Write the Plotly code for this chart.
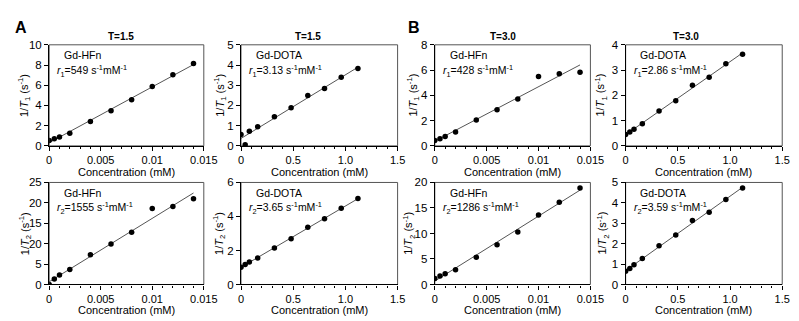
import numpy as np
import plotly.graph_objects as go

# ---------------- data ----------------
conc_hfn = [0, 0.0005, 0.001, 0.002, 0.004, 0.006, 0.008, 0.010, 0.012, 0.014]
conc_dota = [0, 0.04, 0.08, 0.16, 0.32, 0.48, 0.64, 0.80, 0.96, 1.12]

t1_hfn_15 = [0.54, 0.70, 0.89, 1.25, 2.40, 3.48, 4.57, 5.88, 7.03, 8.15]
t1_dota_15 = [0.56, 0.05, 0.72, 0.94, 1.44, 1.88, 2.49, 2.84, 3.40, 3.83]
t1_hfn_30 = [0.43, 0.56, 0.74, 1.10, 2.05, 2.86, 3.71, 5.50, 5.70, 5.83]
t1_dota_30 = [0.45, 0.55, 0.66, 0.88, 1.38, 1.79, 2.40, 2.72, 3.25, 3.63]
t2_hfn_15 = [0.0, 1.35, 2.30, 3.65, 7.30, 9.90, 12.8, 18.6, 19.1, 21.0]
t2_dota_15 = [1.01, 1.18, 1.33, 1.56, 2.15, 2.69, 3.37, 3.87, 4.48, 5.05]
t2_hfn_30 = [1.19, 1.69, 2.10, 2.90, 5.35, 7.80, 10.3, 13.6, 16.1, 18.9]
t2_dota_30 = [0.65, 0.78, 0.97, 1.27, 1.90, 2.43, 3.13, 3.54, 4.17, 4.73]

x_ticks_hfn = [0, 0.005, 0.01, 0.015]
x_ticklabels_hfn = ["0", "0.005", "0.01", "0.015"]
x_ticks_dota = [0, 0.5, 1.0, 1.5]
x_ticklabels_dota = ["0", "0.5", "1.0", "1.5"]

relaxivity_labels = ["549", "3.13", "428", "2.86", "1555", "3.65", "1286", "3.59"]
agents = ["Gd-HFn", "Gd-DOTA", "Gd-HFn", "Gd-DOTA", "Gd-HFn", "Gd-DOTA", "Gd-HFn", "Gd-DOTA"]
field_titles = ["T=1.5", "T=1.5", "T=3.0", "T=3.0"]
t2_hfn_15_ticklabels = ["0", "5", "20", "15", "20", "25"]  # as printed in the figure

# ---------------- layout helpers ----------------
W, H = 799, 321
FONT = "Liberation Sans, Arial, sans-serif"


def px(x):
    return x / W


def py(y):
    return 1 - y / H


col_px = [(39, 197), (235, 395), (433, 592), (628, 788)]
row_px = [(32, 137), (175, 281)]

panels = [
    # (row, col, x, y, ymax, ydtick, kind, relax_sub)
    (0, 0, conc_hfn, t1_hfn_15, 10, 2, "hfn", 1),
    (0, 1, conc_dota, t1_dota_15, 5, 1, "dota", 1),
    (0, 2, conc_hfn, t1_hfn_30, 8, 2, "hfn", 1),
    (0, 3, conc_dota, t1_dota_30, 4, 1, "dota", 1),
    (1, 0, conc_hfn, t2_hfn_15, 25, 5, "hfn", 2),
    (1, 1, conc_dota, t2_dota_15, 6, 2, "dota", 2),
    (1, 2, conc_hfn, t2_hfn_30, 20, 5, "hfn", 2),
    (1, 3, conc_dota, t2_dota_30, 5, 1, "dota", 2),
]

fig = go.Figure()
layout = dict(
    width=W, height=H, autosize=False,
    margin=dict(l=0, r=0, t=0, b=0),
    paper_bgcolor="white", plot_bgcolor="white",
    showlegend=False,
    font=dict(family=FONT, size=11, color="black"),
)
annotations = []
shapes = []

ytitle_x = [[14, 214, 411, 603], [15, 213, 407, 605]]

for i, (r, c, xs, ys, ymax, ydt, kind, sub) in enumerate(panels):
    n = i + 1
    xa = "xaxis" if n == 1 else f"xaxis{n}"
    ya = "yaxis" if n == 1 else f"yaxis{n}"
    xr = "x" if n == 1 else f"x{n}"
    yr = "y" if n == 1 else f"y{n}"
    x0, x1 = col_px[c]
    y0, y1 = row_px[r]

    xs_arr = np.array(xs)
    ys_arr = np.array(ys)
    slope, inter = np.polyfit(xs_arr, ys_arr, 1)
    xfit = np.array([0, xs_arr.max()])
    fig.add_trace(go.Scatter(x=xfit, y=slope * xfit + inter, mode="lines",
                             line=dict(color="#555555", width=1),
                             xaxis=xr, yaxis=yr, hoverinfo="skip"))
    fig.add_trace(go.Scatter(x=xs, y=ys, mode="markers",
                             marker=dict(color="black", size=5.5),
                             xaxis=xr, yaxis=yr))

    if kind == "hfn":
        xrange_ = [0, 0.015]
        xtv, xtt, mdt = x_ticks_hfn, x_ticklabels_hfn, 0.001
    else:
        xrange_ = [0, 1.5]
        xtv, xtt, mdt = x_ticks_dota, x_ticklabels_dota, 0.1

    ytv = list(np.arange(0, ymax + 1e-9, ydt))
    ytt = [f"{v:g}" for v in ytv]
    if n == 5:
        ytt = t2_hfn_15_ticklabels

    layout[xa] = dict(
        domain=[px(x0), px(x1)], anchor=yr, range=xrange_,
        showgrid=False, zeroline=False, showline=True, linecolor="black", linewidth=1.2,
        ticks="outside", ticklen=4, tickwidth=1, tickcolor="black",
        tickvals=xtv, ticktext=xtt, tickfont=dict(size=11, family=FONT),
        minor=dict(ticks="outside", ticklen=2, tickwidth=1, tickcolor="black",
                   dtick=mdt, tick0=0, showgrid=False),
    )
    layout[ya] = dict(
        domain=[py(y1), py(y0)], anchor=xr, range=[0, ymax],
        showgrid=False, zeroline=False, showline=True, linecolor="black", linewidth=1.2,
        ticks="outside", ticklen=4, tickwidth=1, tickcolor="black",
        tickvals=ytv, ticktext=ytt, tickfont=dict(size=11.5, family=FONT),
    )
    shapes.append(dict(type="rect", xref=f"{xr} domain", yref=f"{yr} domain",
                       x0=0, x1=1, y0=0, y1=1, line=dict(color="#555555", width=1),
                       layer="below"))

    # inside labels
    annotations.append(dict(x=px(x0 + 13), y=py(y0 + 11), xref="paper", yref="paper",
                            text=agents[i], showarrow=False, xanchor="left", yanchor="middle",
                            font=dict(size=10.5, family=FONT)))
    annotations.append(dict(x=px(x0 + 6), y=py(y0 + 27), xref="paper", yref="paper",
                            text=f"<i>r</i><sub>{sub}</sub>={relaxivity_labels[i]} s<sup>-1</sup>mM<sup>-1</sup>",
                            showarrow=False, xanchor="left", yanchor="middle",
                            font=dict(size=10.5, family=FONT)))
    # y title
    annotations.append(dict(x=px(ytitle_x[r][c]), y=py((y0 + y1) / 2), xref="paper", yref="paper",
                            text=f"1/<i>T</i><sub>{sub}</sub> (s<sup>-1</sup>)", textangle=-90,
                            showarrow=False, xanchor="center", yanchor="middle",
                            font=dict(size=11, family=FONT)))
    # x title
    annotations.append(dict(x=px((x0 + x1) / 2), y=py(y1 + 27), xref="paper", yref="paper",
                            text="Concentration (mM)", showarrow=False,
                            xanchor="center", yanchor="middle",
                            font=dict(size=11, family=FONT)))

title_x = [112, 303, 503, 690]
for c, t in enumerate(field_titles):
    annotations.append(dict(x=px(title_x[c]), y=py(23), xref="paper", yref="paper",
                            text=f"<b>{t}</b>", showarrow=False, xanchor="center", yanchor="middle",
                            font=dict(size=10, family=FONT)))

annotations.append(dict(x=px(10), y=py(14), xref="paper", yref="paper", text="<b>A</b>",
                        showarrow=False, xanchor="center", yanchor="middle",
                        font=dict(size=16, family=FONT)))
annotations.append(dict(x=px(412), y=py(14), xref="paper", yref="paper", text="<b>B</b>",
                        showarrow=False, xanchor="center", yanchor="middle",
                        font=dict(size=16, family=FONT)))

layout["annotations"] = annotations
layout["shapes"] = shapes
fig.update_layout(**layout)
fig.write_html("out.html")
